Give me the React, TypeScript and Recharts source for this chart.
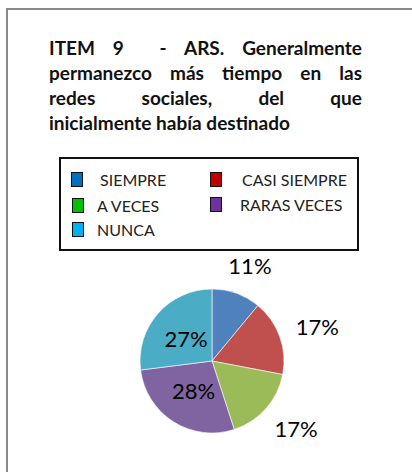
import { Cell, Legend, Pie, PieChart } from "recharts";

const categories = ["SIEMPRE", "CASI SIEMPRE", "A VECES", "RARAS VECES", "NUNCA"];
const percentages = [11, 17, 17, 28, 27];
const sliceColors = ["#4F81BD", "#C0504D", "#9BBB59", "#8064A2", "#4BACC6"];
const legendColors = ["#0070C0", "#C00000", "#00C000", "#7030A0", "#00B0F0"];
const titleLines = [
  "ITEM 9 \u00a0- ARS. Generalmente",
  "permanezco más tiempo en las",
  "redes sociales, del que",
  "inicialmente había destinado",
];

const data = categories.map((name, i) => ({ name, value: percentages[i] }));

const FONT = 'Lato, "Liberation Sans", sans-serif';
const RADIAN = Math.PI / 180;

// legend slots: [square x, text x, row center y] relative to the page
const legendSlots = [
  [71, 100, 180],
  [210, 242, 180],
  [72, 97, 206],
  [210, 240, 205],
  [72, 97, 230],
];

function LegendBox() {
  return (
    <div
      style={{
        position: "absolute",
        left: 59,
        top: 157,
        width: 300,
        height: 94,
        boxSizing: "border-box",
        border: "2px solid #111",
        background: "#fff",
      }}
    >
      {categories.map((name, i) => {
        const [sx, tx, cy] = legendSlots[i];
        return (
          <div key={name}>
            <div
              style={{
                position: "absolute",
                left: sx - 61,
                top: cy - 159 - 8,
                width: 12,
                height: 15,
                boxSizing: "border-box",
                border: "1.5px solid #111",
                background: legendColors[i],
              }}
            />
            <div
              style={{
                position: "absolute",
                left: tx - 61,
                top: cy - 159 - 11,
                height: 22,
                lineHeight: "22px",
                fontSize: 16,
                color: "#222",
                whiteSpace: "nowrap",
              }}
            >
              {name}
            </div>
          </div>
        );
      })}
    </div>
  );
}

const renderLabel = (props: any) => {
  const { cx, cy, midAngle, outerRadius, value } = props;
  const outside = value < 20;
  const r = outside ? outerRadius + 19 : outerRadius * 0.48;
  const cos = Math.cos(-midAngle * RADIAN);
  const sin = Math.sin(-midAngle * RADIAN);
  // outside labels: push the label box off the rim like a spreadsheet does
  const x = cx + r * cos + (outside ? 21 * cos : 0);
  const y = cy + r * sin + (outside ? 11 * sin : 0);
  return (
    <text
      x={x}
      y={y}
      textAnchor="middle"
      dominantBaseline="central"
      fill="#000"
      fontSize={22}
      fontFamily={FONT}
    >
      {`${value}%`}
    </text>
  );
};

export default function App() {
  return (
    <div
      style={{
        position: "absolute",
        left: 0,
        top: 0,
        width: 412,
        height: 472,
        background: "#fff",
        fontFamily: FONT,
        overflow: "hidden",
      }}
    >
      <div
        style={{
          position: "absolute",
          left: 6,
          top: 8,
          width: 420,
          height: 480,
          borderLeft: "2px solid #888",
          borderTop: "2px solid #888",
        }}
      />
      <div style={{ position: "absolute", left: 49, top: 35, width: 313 }}>
        {titleLines.map((line, i) => (
          <div
            key={i}
            style={{
              height: 25,
              lineHeight: "25px",
              fontSize: 19,
              fontWeight: 700,
              color: "#111",
              textAlign: "justify",
              textAlignLast: i < titleLines.length - 1 ? "justify" : "left",
              whiteSpace: "nowrap",
            }}
          >
            {line}
          </div>
        ))}
      </div>
      <PieChart
        width={412}
        height={472}
        margin={{ top: 0, right: 0, bottom: 0, left: 0 }}
        style={{ position: "absolute", left: 0, top: 0 }}
      >
        <Pie
          data={data}
          dataKey="value"
          nameKey="name"
          cx={212}
          cy={361}
          outerRadius={72}
          startAngle={90}
          endAngle={-270}
          stroke="#fff"
          strokeWidth={0.6}
          label={renderLabel}
          labelLine={false}
          isAnimationActive={false}
        >
          {data.map((d, i) => (
            <Cell key={d.name} fill={sliceColors[i]} />
          ))}
        </Pie>
        <Legend
          content={() => <LegendBox />}
          wrapperStyle={{ position: "absolute", left: 0, top: 0, width: 0, height: 0 }}
        />
      </PieChart>
    </div>
  );
}
